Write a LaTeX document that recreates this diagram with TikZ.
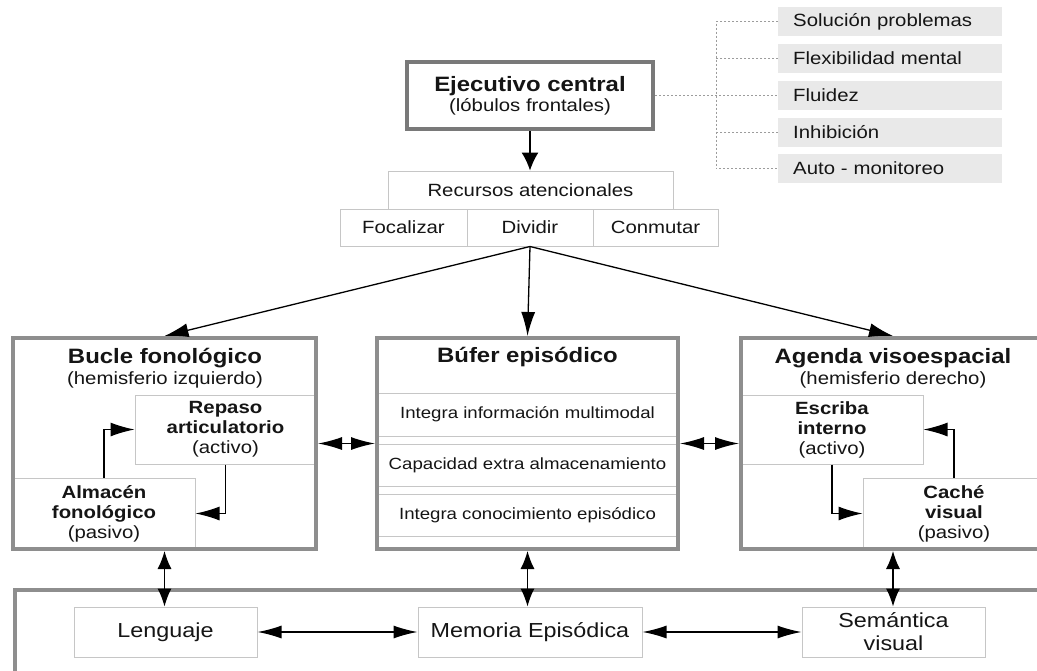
\documentclass[tikz,border=0pt]{standalone}
\usepackage{fontspec}
\setmainfont{Liberation Sans}[FakeStretch=1.15]
\usetikzlibrary{arrows.meta}
\pgfdeclarelayer{background}
\pgfsetlayers{background,main}
\definecolor{framec}{HTML}{8E8E8E}
\definecolor{thinc}{HTML}{C6C6C6}
\definecolor{listbg}{HTML}{E9E9E9}
\definecolor{txtc}{HTML}{151515}
\definecolor{dashc}{HTML}{9C9C9C}
\newcommand{\ftitle}{\fontsize{20.8}{22}\selectfont\bfseries}
\newcommand{\fnorm}{\fontsize{17.7}{20}\selectfont}
\newcommand{\fbuf}{\fontsize{16.2}{18}\selectfont}
\newcommand{\fbot}{\fontsize{20.3}{23}\selectfont}
\begin{document}
\begin{tikzpicture}[x=1pt,y=-1pt,
  bigbox/.style={draw=framec, line width=4pt, inner sep=0pt},
  subbox/.style={draw=thinc, line width=1pt, inner sep=0pt, align=center, text=txtc, font=\fnorm},
  listbox/.style={fill=listbg, inner xsep=15pt, inner ysep=0pt, anchor=west, text width=194pt, minimum height=29pt, align=left, font=\fnorm, text=txtc},
  lbl/.style={inner sep=0pt, align=center, text=txtc, font=\fnorm},
  arr/.style={-{Latex[length=24pt,width=14pt]}, line width=1.3pt},
  arrbig/.style={-{Latex[length=18pt,width=17pt]}, line width=1.3pt},
  darr/.style={{Latex[length=24pt,width=13pt]}-{Latex[length=24pt,width=13pt]}, line width=1.3pt},
  varr/.style={{Latex[length=18pt,width=14pt]}-{Latex[length=18pt,width=14pt]}, line width=1.3pt},
  dline/.style={draw=dashc, line width=0.8pt, dash pattern=on 2pt off 2pt},
]
\useasboundingbox (0,0) rectangle (1037,670);
\clip (0,0) rectangle (1037,670);
\begin{pgfonlayer}{background}
\fill[white] (0,0) rectangle (1037,670);
\end{pgfonlayer}

% executive
\node[bigbox, draw=framec!85!black, minimum width=246pt, minimum height=67pt, align=center, font=\fnorm, text=txtc] (ej) at (530,95.5) {{\ftitle Ejecutivo central}\\(lóbulos frontales)};

% side list
\node[listbox] (s1) at (778,21.5) {Solución problemas};
\node[listbox] (s2) at (778,58.5) {Flexibilidad mental};
\node[listbox] (s3) at (778,95) {Fluidez};
\node[listbox] (s4) at (778,132) {Inhibición};
\node[listbox] (s5) at (778,168.5) {Auto - monitoreo};
\coordinate (vx) at (716,0);
\draw[dline] (ej.east) -- (ej.east -| s3.west);
\draw[dline] (s1.west) -- (s1.west -| vx) -- (s5.west -| vx) -- (s5.west);
\draw[dline] (s2.west) -- (s2.west -| vx);
\draw[dline] (s4.west) -- (s4.west -| vx);

% attention resources
\node[subbox, minimum width=285pt, minimum height=38pt] (rec) at (530.5,190) {Recursos atencionales};
\node[subbox, minimum width=127pt, minimum height=37pt] (foc) at (403.5,227.5) {Focalizar};
\node[subbox, minimum width=126pt, minimum height=37pt] (div) at (530,227.5) {Dividir};
\node[subbox, minimum width=125pt, minimum height=37pt] (con) at (655.5,227.5) {Conmutar};
\draw[arrbig] (ej.south) -- (ej.south |- rec.north);

% big boxes
\node[bigbox, minimum width=303pt, minimum height=211pt] (buc) at (164.5,443.5) {};
\node[bigbox, minimum width=301pt, minimum height=211pt] (buf) at (527.5,443.5) {};
\node[bigbox, minimum width=304pt, minimum height=211pt] (age) at (893,443.5) {};

\node[lbl, font=\ftitle] (bucT) at (165,358) {Bucle fonológico};
\node[lbl] (bucS) at (165,380) {(hemisferio izquierdo)};
\node[lbl, font=\ftitle] (bufT) at (527.5,357) {Búfer episódico};
\node[lbl, font=\ftitle] (ageT) at (893,358) {Agenda visoespacial};
\node[lbl] (ageS) at (893,380) {(hemisferio derecho)};

\begin{pgfonlayer}{background}
\node[subbox, minimum width=181pt, minimum height=69pt] (rep) at (225.5,429.5) {\textbf{Repaso}\\\textbf{articulatorio}\\(activo)};
\node[subbox, minimum width=182pt, minimum height=71pt] (alm) at (104,513.5) {\textbf{Almacén}\\\textbf{fonológico}\\(pasivo)};
\node[subbox, minimum width=182pt, minimum height=69pt] (esc) at (832,429.5) {\textbf{Escriba}\\\textbf{interno}\\(activo)};
\node[subbox, minimum width=182pt, minimum height=71pt] (cac) at (954,513.5) {\textbf{Caché}\\\textbf{visual}\\(pasivo)};
\node[subbox, font=\fbuf, minimum width=301pt, minimum height=43pt] (b1) at (527.5,414.5) {Integra información multimodal};
\node[subbox, font=\fbuf, minimum width=301pt, minimum height=42pt] (b2) at (527.5,465) {Capacidad extra almacenamiento};
\node[subbox, font=\fbuf, minimum width=301pt, minimum height=42pt] (b3) at (527.5,515) {Integra conocimiento episódico};
\end{pgfonlayer}

\draw[arr] (div.south) -- (buc.north);
\draw[arr] (div.south) -- (buf.north);
\draw[arr] (div.south) -- (age.north);

\draw[arr] (alm.north) |- (rep.west);
\draw[arr] (rep.south) |- (alm.east);
\draw[arr] (esc.south) |- (cac.west);
\draw[arr] (cac.north) |- (esc.east);

\draw[darr] (buc.east) -- (buf.west);
\draw[darr] (buf.east) -- (age.west);

% long-term memory
\node[bigbox, minimum width=1045pt, minimum height=110pt] (ltm) at (537.5,645) {};
\node[subbox, font=\fbot, minimum width=183pt, minimum height=50pt] (len) at (165.5,632) {Lenguaje};
\node[subbox, font=\fbot, minimum width=224pt, minimum height=50pt] (mem) at (530,632) {Memoria Episódica};
\node[subbox, font=\fbot, minimum width=183pt, minimum height=50pt] (sem) at (893.5,632) {Semántica\\visual};

\draw[varr] (buc.south) -- (buc.south |- len.north);
\draw[varr] (buf.south) -- (buf.south |- mem.north);
\draw[varr] (age.south) -- (age.south |- sem.north);
\draw[darr] (len.east) -- (mem.west);
\draw[darr] (mem.east) -- (sem.west);
\end{tikzpicture}
\end{document}
